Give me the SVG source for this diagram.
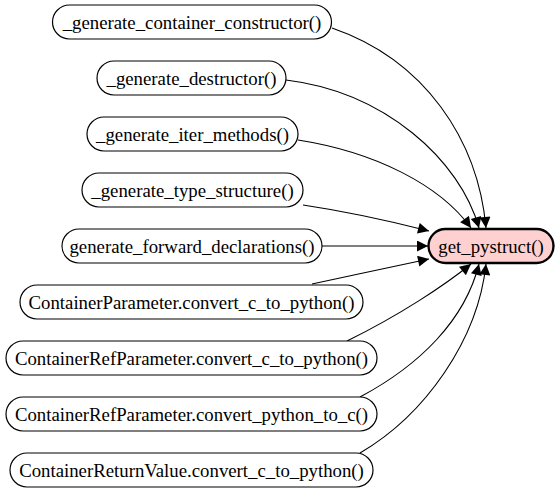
<svg xmlns="http://www.w3.org/2000/svg" width="560" height="491" viewBox="0 0 560 491">
<style>
.n rect{fill:#fff;stroke:#000;stroke-width:1.2}
.t rect{fill:#ffd0d0;stroke:#000;stroke-width:2.4}
text{font-family:"Liberation Serif","Times New Roman",serif;font-size:18.8px;text-anchor:middle;fill:#000}
.e path{fill:none;stroke:#000;stroke-width:1.1;marker-end:url(#ah)}
</style>
<defs>
<marker id="ah" viewBox="0 0 10 10" refX="10" refY="5" markerWidth="14" markerHeight="11" markerUnits="userSpaceOnUse" orient="auto">
<path d="M0,0 L10,5 L0,10 z" fill="#000" stroke="none"/>
</marker>
</defs>
<rect width="560" height="491" fill="#fff"/>
<g id="edges" class="e">
<path d="M332,28 C425,60 478,140 486,228"/>
<path d="M286,80 C385,92 460,160 479,228"/>
<path d="M298,140 C375,152 440,185 471,228"/>
<path d="M303,205 C350,212 390,221 429,231"/>
<path d="M322,246 L428,246"/>
<path d="M312,284 C350,276 395,266 429,259"/>
<path d="M347,341 C400,315 445,285 471,264"/>
<path d="M360,397 C420,365 465,320 479,264"/>
<path d="M360,453 C425,415 478,340 486,264"/>
</g>
<g id="n1" class="n"><rect x="52.5" y="5" width="279" height="34" rx="17"/><text x="192" y="28.5">_generate_container_constructor()</text></g>
<g id="n2" class="n"><rect x="97" y="61" width="189" height="34" rx="17"/><text x="191.5" y="84.5">_generate_destructor()</text></g>
<g id="n3" class="n"><rect x="87" y="117" width="211" height="34" rx="17"/><text x="192.5" y="140.5">_generate_iter_methods()</text></g>
<g id="n4" class="n"><rect x="82" y="173" width="221" height="34" rx="17"/><text x="192.5" y="196.5">_generate_type_structure()</text></g>
<g id="n5" class="n"><rect x="62" y="229" width="260" height="34" rx="17"/><text x="192" y="252.5">generate_forward_declarations()</text></g>
<g id="n6" class="n"><rect x="20" y="285" width="343" height="34" rx="17"/><text x="191.5" y="308.5">ContainerParameter.convert_c_to_python()</text></g>
<g id="n7" class="n"><rect x="6" y="341" width="371" height="34" rx="17"/><text x="191.5" y="364.5">ContainerRefParameter.convert_c_to_python()</text></g>
<g id="n8" class="n"><rect x="6" y="397" width="371" height="34" rx="17"/><text x="191.5" y="420.5">ContainerRefParameter.convert_python_to_c()</text></g>
<g id="n9" class="n"><rect x="10" y="453" width="363" height="34" rx="17"/><text x="191.5" y="476.5">ContainerReturnValue.convert_c_to_python()</text></g>
<g id="target" class="t"><rect x="428.5" y="229" width="125" height="34" rx="17"/><text x="491" y="252.5">get_pystruct()</text></g>
</svg>
